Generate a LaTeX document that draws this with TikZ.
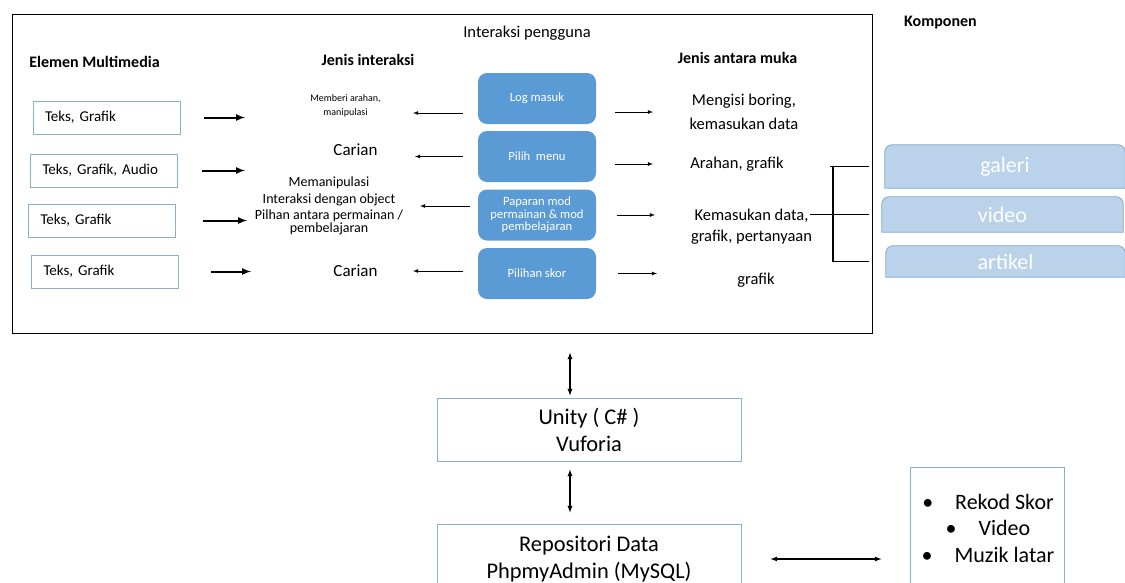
\documentclass[tikz,border=0pt]{standalone}
\usepackage{fontspec}
\setmainfont{Carlito}
\usetikzlibrary{backgrounds}
\frenchspacing

\definecolor{birubox}{RGB}{91,155,213}
\definecolor{birumuda}{RGB}{186,210,234}
\definecolor{birutepi}{RGB}{130,168,202}
\definecolor{garisbox}{RGB}{135,178,200}

\tikzset{
  bingkai/.style={draw, line width=1pt, minimum width=860pt, minimum height=319pt, inner sep=0pt},
  heading/.style={font=\bfseries\fontsize{16}{19}\selectfont},
  judul/.style={font=\fontsize{16.5}{19}\selectfont},
  media/.style={draw=garisbox, line width=1pt, minimum width=147pt, minimum height=33pt,
    inner xsep=12pt, text width=123pt, align=left, font=\fontsize{15}{18}\selectfont},
  catatan/.style={align=center, font=\fontsize{14}{16.5}\selectfont},
  aksi/.style={fill=birubox, rounded corners=9pt, minimum width=118pt, minimum height=51pt,
    text=white, align=center, font=\fontsize{12.6}{12.5}\selectfont},
  muka/.style={align=center, font=\fontsize{16.5}{24}\selectfont},
  komp/.style={minimum width=240pt, text=white, font=\fontsize{22}{26}\selectfont},
  kompshape/.style={fill=birumuda, draw=birutepi, line width=0.8pt},
  sistem/.style={draw=garisbox, line width=1pt, minimum width=304pt, align=center,
    font=\fontsize{22.4}{27}\selectfont},
  tebal/.style={->, line width=2pt},
  tipis/.style={->, line width=0.8pt},
  dua/.style={<->, line width=1.3pt},
  kurung/.style={line width=1.4pt}
}

\begin{document}
\begin{tikzpicture}[x=1pt,y=-1pt,>=latex]
  \useasboundingbox (0,0) rectangle (1125,582);
  \clip (0,0) rectangle (1125,582);

  %user interaction frame
  \node[bingkai] (pengguna) at (442,173.5) {};
  \node[judul] (tajuk) at (527,33) {Interaksi pengguna};

  %column titles
  \node[heading] (elemen) at (94.5,62) {Elemen Multimedia};
  \node[heading] (jenis) at (368,60) {Jenis interaksi};
  \node[heading] (antaramuka) at (737.5,58) {Jenis antara muka};
  \node[heading] (komponen) at (940.5,23) {Komponen};

  %multimedia elements
  \node[media] (teks1) at (106.5,117.5) {Teks, Grafik};
  \node[media] (teks2) at (104,170.5) {Teks, Grafik, Audio};
  \node[media] (teks3) at (102,220.5) {Teks, Grafik};
  \node[media] (teks4) at (105,271.5) {Teks, Grafik};

  %interaction types
  \node[catatan, font=\fontsize{10}{14}\selectfont] (arahan) at (345.5,106) {Memberi arahan,\\manipulasi};
  \node[catatan, font=\fontsize{17}{20}\selectfont] (carian1) at (355.5,150) {Carian};
  \node[catatan] (manip) at (329,206) {Memanipulasi\\Interaksi dengan object\\Pilhan antara permainan /\\[-4pt]pembelajaran};
  \node[catatan, font=\fontsize{17}{20}\selectfont] (carian2) at (355.5,271) {Carian};

  %user actions
  \node[aksi] (login) at (537,98.5) {Log masuk};
  \node[aksi] (pilih) at (537,156.5) {Pilih\ \ menu};
  \node[aksi] (papar) at (537,215) {Paparan mod\\permainan \& mod\\pembelajaran};
  \node[aksi] (skor) at (537,273.5) {Pilihan skor};

  %interface types
  \node[muka] (mengisi) at (744,112) {Mengisi boring,\\kemasukan data};
  \node[muka] (arahgraf) at (737,164) {Arahan, grafik};
  \node[muka, font=\fontsize{16.5}{21}\selectfont] (kemasukan) at (751.5,226.5) {Kemasukan data,\\grafik, pertanyaan};
  \node[muka] (grafik) at (756,280) {grafik};

  %components
  \node[komp, minimum height=43pt] (galeri) at (1005,166.5) {galeri};
  \node[komp, minimum width=241pt, minimum height=35pt] (video) at (1002.5,214.5) {video};
  \node[komp, minimum width=239pt, minimum height=31pt] (artikel) at (1005.5,261.5) {artikel};
  \begin{pgfonlayer}{background}
    \foreach \k in {galeri,video,artikel}
      \draw[kompshape] (\k.south west) -- ([yshift=-7pt]\k.north west)
        arc[start angle=180, end angle=90, radius=7pt] -- ([xshift=-7pt]\k.north east)
        arc[start angle=90, end angle=0, radius=7pt] -- (\k.south east) -- cycle;
  \end{pgfonlayer}

  %system boxes
  \node[sistem, minimum height=63pt] (unity) at (589,429.5) {Unity ( C\# )\\Vuforia};
  \node[sistem, minimum height=70pt] (repo) at (589,559) {Repositori Data\\PhpmyAdmin (MySQL)};
  \node[sistem, minimum width=154pt, minimum height=190pt] (storan) at (987,562) {};
  \node[sistem, draw=none, font=\fontsize{22}{26.5}\selectfont, minimum width=0pt] (senarai) at (988,528)
    {\textbullet\quad Rekod Skor\\\textbullet\quad Video\\\textbullet\quad Muzik latar};

  %arrows from elements
  \draw[tebal, shorten <=23pt, shorten >=100.5pt] (teks1.east) -- (teks1.east -| arahan);
  \draw[tebal, shorten <=24pt, shorten >=84pt] (teks2.east) -- (teks2.east -| manip);
  \draw[tebal, shorten <=27pt, shorten >=82pt] (teks3.east) -- (teks3.east -| manip);
  \draw[tebal, shorten <=32pt, shorten >=104.5pt] (teks4.east) -- (teks4.east -| carian2);

  %arrows to interaction types
  \draw[tipis, shorten <=15pt, shorten >=67.5pt] ([yshift=-14.5pt]login.west) -- ([yshift=-14.5pt]login.west -| arahan);
  \draw[tipis, shorten <=15pt, shorten >=59.5pt] (pilih.west) -- (pilih.west -| carian1);
  \draw[tipis, shorten <=8pt, shorten >=91pt] (papar.west |- manip) -- (manip.center);
  \draw[tipis, shorten <=15pt, shorten >=57.5pt] (skor.west |- carian2) -- (carian2.center);

  %arrows to interface types
  \draw[tipis, shorten <=19pt, shorten >=91pt] (login.east |- mengisi) -- (mengisi.center);
  \draw[tipis, shorten <=19pt, shorten >=84pt] (pilih.east |- arahgraf) -- (arahgraf.center);
  \draw[tipis, shorten <=21pt, shorten >=96.5pt] (papar.east) -- (papar.east -| kemasukan);
  \draw[tipis, shorten <=22pt, shorten >=99pt] (skor.east) -- (skor.east -| grafik);

  %bracket to components
  \coordinate (cabang) at (833,215);
  \draw[kurung] (galeri.west -| cabang) -- (artikel.west -| cabang);
  \draw[kurung, shorten >=16pt] ([xshift=-3pt]galeri.west -| cabang) -- (galeri.west);
  \draw[kurung, shorten <=58.5pt, shorten >=13pt] (video.west -| kemasukan) -- (video.west);
  \draw[kurung, shorten >=17pt] (artikel.west -| cabang) -- (artikel.west);

  %links between layers
  \draw[dua, shorten <=2pt, shorten >=19pt] ([xshift=-19pt]unity.north) -- ([xshift=-19pt]unity.north |- pengguna.south);
  \draw[dua, shorten <=8pt, shorten >=11pt] ([xshift=-19pt]unity.south) -- ([xshift=-19pt]unity.south |- repo.north);
  \draw[dua, shorten <=29pt, shorten >=28pt] (repo.east) -- (repo.east -| storan.west);

\end{tikzpicture}
\end{document}
